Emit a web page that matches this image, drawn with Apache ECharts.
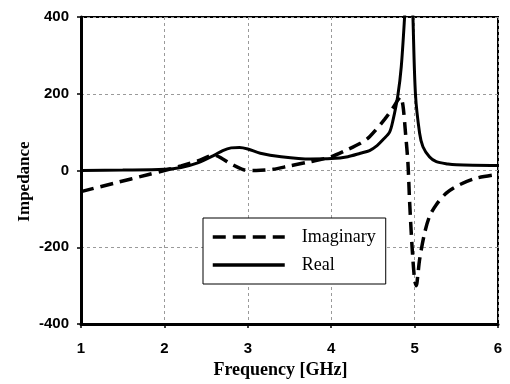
<!DOCTYPE html>
<html>
<head>
<meta charset="utf-8">
<script src="https://cdn.jsdelivr.net/npm/echarts@6/dist/echarts.min.js"></script>
<style>
  html, body { margin: 0; padding: 0; background: #fff; }
  #chart { width: 510px; height: 384px; }
</style>
</head>
<body>
<div id="chart"></div>
<script>
// values (GHz / Ohm)
var realFreq = [1.0, 1.5, 2.0, 2.2, 2.4, 2.6, 2.7, 2.8, 2.9, 3.0, 3.15, 3.4, 3.75, 4.0, 4.2, 4.35, 4.46, 4.55, 4.62, 4.7, 4.74, 4.8, 4.84, 4.88, 4.91, 4.94, 4.97, 4.98, 5.01, 5.06, 5.1, 5.18, 5.26, 5.4, 5.5, 6.0];
var realVal = [0, 1, 3, 8, 20, 40, 52, 59, 60, 56, 45, 36, 30, 31, 36, 45, 52, 65, 80, 100, 130, 197, 270, 400, 520, 560, 470, 400, 200, 97, 62, 35, 23, 17, 15, 13];

var imagFreq = [1.0, 1.4, 1.8, 2.0, 2.2, 2.4, 2.6, 2.7, 2.8, 2.95, 3.1, 3.3, 3.5, 3.75, 4.0, 4.2, 4.35, 4.46, 4.64, 4.74, 4.8, 4.83, 4.86, 4.89, 4.92, 4.94, 4.97, 5.0, 5.02, 5.04, 5.06, 5.12, 5.18, 5.26, 5.38, 5.54, 5.74, 6.0];
var imagVal = [-55, -33, -11, 0, 12, 25, 40, 30, 17, 2, 0, 3, 12, 23, 36, 55, 71, 88, 133, 163, 184, 192, 170, 100, 20, -80, -200, -285, -300, -270, -232, -163, -119, -89, -59, -37, -20, -10];

var xTicks = { min: 1, max: 6, step: 1 };
var yTicks = { min: -400, max: 400, step: 200 };

function pairs(xs, ys) {
  return xs.map(function (x, i) { return [x, ys[i]]; });
}

var chart = echarts.init(document.getElementById('chart'), null, { renderer: 'canvas' });

var gridLine = { show: true, lineStyle: { color: '#9a9a9a', width: 1, type: [3, 3] } };

chart.setOption({
  backgroundColor: '#fff',
  animation: false,
  grid: {
    left: 81, right: 12, top: 17, bottom: 59,
    show: true, borderColor: '#000', borderWidth: 2
  },
  legend: {
    orient: 'vertical',
    left: 203, top: 218,
    padding: [10, 10, 10, 8],
    itemWidth: 72,
    itemHeight: 14,
    itemGap: 10,
    backgroundColor: '#fff',
    borderColor: '#000',
    borderWidth: 1,
    borderRadius: 0,
    itemStyle: { opacity: 0, borderWidth: 0 },
    lineStyle: { width: 3.5 },
    textStyle: {
      fontFamily: 'Liberation Serif',
      fontSize: 18,
      color: '#000',
      padding: [0, 0, 0, 12]
    },
    data: ['Imaginary', 'Real']
  },
  xAxis: {
    type: 'value',
    min: xTicks.min, max: xTicks.max, interval: xTicks.step,
    name: 'Frequency [GHz]',
    nameLocation: 'middle',
    nameGap: 37,
    nameTextStyle: {
      fontFamily: 'Liberation Serif', fontWeight: 'bold', fontSize: 18, color: '#000',
      padding: [0, 18, 0, 0]
    },
    axisLine: { show: true, onZero: false, lineStyle: { color: '#000', width: 3 } },
    axisTick: { show: true, inside: false, length: 4, lineStyle: { color: '#000', width: 1.5 } },
    axisLabel: {
      margin: 17,
      fontFamily: 'Liberation Sans', fontWeight: 'bold', fontSize: 15, color: '#000'
    },
    splitLine: gridLine
  },
  yAxis: {
    type: 'value',
    min: yTicks.min, max: yTicks.max, interval: yTicks.step,
    name: 'Impedance',
    nameLocation: 'middle',
    nameGap: 48,
    nameMoveOverlap: false,
    nameTextStyle: {
      fontFamily: 'Liberation Serif', fontWeight: 'bold', fontSize: 17, color: '#000',
      padding: [0, 22, 0, 0]
    },
    axisLine: { show: true, onZero: false, lineStyle: { color: '#000', width: 3 } },
    axisTick: { show: true, inside: false, length: 4, lineStyle: { color: '#000', width: 1.5 } },
    axisLabel: {
      margin: 12,
      fontFamily: 'Liberation Sans', fontWeight: 'bold', fontSize: 15, color: '#000'
    },
    splitLine: gridLine
  },
  series: [
    {
      name: 'Imaginary',
      type: 'line',
      data: pairs(imagFreq, imagVal),
      smooth: 0.3,
      symbol: 'none',
      clip: true,
      z: 3,
      lineStyle: { color: '#000', width: 3.5, type: [13, 7] },
      itemStyle: { color: '#000' }
    },
    {
      name: 'Real',
      type: 'line',
      data: pairs(realFreq, realVal),
      smooth: 0.3,
      symbol: 'none',
      clip: true,
      z: 2,
      lineStyle: { color: '#000', width: 3 },
      itemStyle: { color: '#000' }
    }
  ]
});
</script>
</body>
</html>
